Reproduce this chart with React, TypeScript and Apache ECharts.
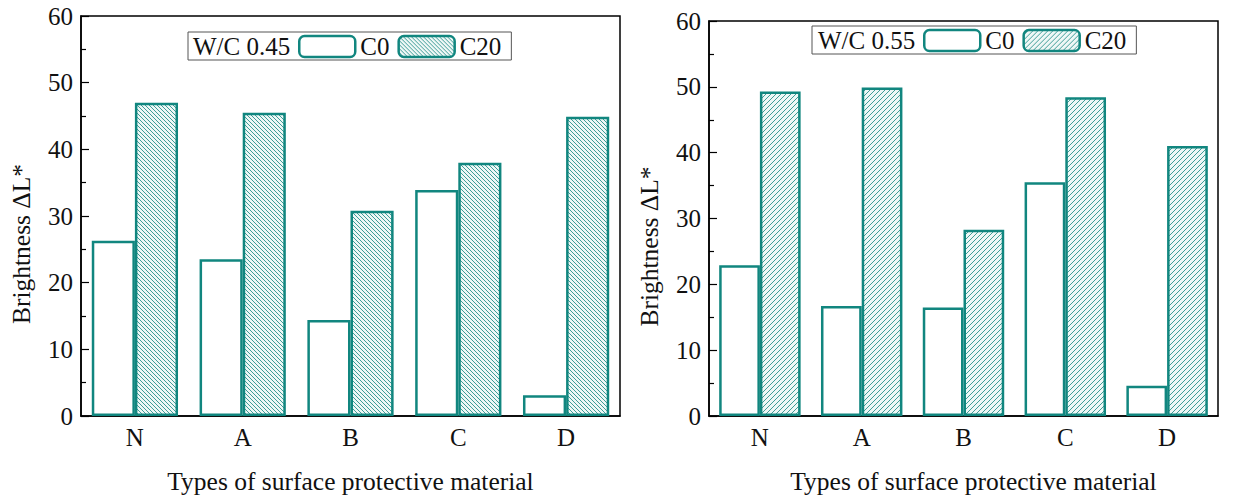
import React, { useEffect, useRef } from "react";
import * as echarts from "echarts";

// Surface protective material types
const categories = ["N", "A", "B", "C", "D"];

// Brightness change ΔL*, W/C 0.45
const c0Left = [26.3, 23.5, 14.4, 33.9, 3.1];
const c20Left = [47.0, 45.5, 30.8, 38.0, 44.9];

// Brightness change ΔL*, W/C 0.55
const c0Right = [22.9, 16.7, 16.5, 35.5, 4.6];
const c20Right = [49.3, 49.9, 28.3, 48.4, 41.0];

const yMin = 0;
const yMax = 60;
const yInterval = 10;

const TEAL = "#11867f";
const FONT = "Liberation Serif, Times New Roman, serif";

// Diagonal hatch tile: dir 1 = "\" lines, dir -1 = "/" lines
function hatch(size: number, dir: number) {
  const c = document.createElement("canvas");
  c.width = size;
  c.height = size;
  const ctx = c.getContext("2d")!;
  ctx.fillStyle = "#eef7f6";
  ctx.fillRect(0, 0, size, size);
  ctx.strokeStyle = "rgba(17,134,128,0.8)";
  ctx.lineWidth = 1;
  for (let k = -1; k <= 1; k++) {
    ctx.beginPath();
    if (dir > 0) {
      ctx.moveTo(k * size, 0);
      ctx.lineTo(k * size + size, size);
    } else {
      ctx.moveTo(k * size, size);
      ctx.lineTo(k * size + size, 0);
    }
    ctx.stroke();
  }
  return {
    image: c.toDataURL(),
    repeat: "repeat",
    imageWidth: size,
    imageHeight: size,
  } as any;
}

export default function App() {
  const ref = useRef<HTMLDivElement>(null);

  useEffect(() => {
    if (!ref.current) return;
    const chart = echarts.init(ref.current, null, { renderer: "svg" });
    const patL = hatch(4, 1);
    const patR = hatch(5, -1);

    const grids = [
      { left: 81, top: 16, width: 539, height: 402 },
      { left: 709, top: 21, width: 509, height: 395 },
    ];

    const txt = { color: "#111", fontFamily: FONT, fontSize: 25 };
    const nameTxt = { color: "#111", fontFamily: FONT, fontSize: 25.5 };

    const xAxis = grids.map((_, i) => ({
      type: "category",
      gridIndex: i,
      data: categories,
      axisLine: { lineStyle: { color: "#000", width: 1.5 } },
      axisTick: { inside: true, length: 4, lineStyle: { color: "#000", width: 1.2 } },
      axisLabel: { ...txt, margin: 9 },
      name: "Types of surface protective material",
      nameLocation: "middle",
      nameGap: 52,
      nameTextStyle: { ...nameTxt, padding: i === 1 ? [0, 0, 0, 20] : 0 },
    }));

    const yAxis = grids.map((_, i) => ({
      type: "value",
      gridIndex: i,
      min: yMin,
      max: yMax,
      interval: yInterval,
      axisLine: { show: true, lineStyle: { color: "#000", width: 1.5 } },
      axisTick: { show: true, inside: true, length: 8, lineStyle: { color: "#000", width: 1.2 } },
      minorTick: { show: true, splitNumber: 2, length: 5, lineStyle: { color: "#000", width: 1.2 } },
      splitLine: { show: false },
      axisLabel: { ...txt, margin: 8 },
      name: "Brightness \u0394L*",
      nameLocation: "middle",
      nameGap: 47,
      nameRotate: 90,
      nameTextStyle: { ...nameTxt, padding: [0, 56, 0, 0] },
    }));

    const barBase = {
      type: "bar",
      barCategoryGap: "20%",
      barGap: "0%",
    };
    const c0Style = { color: "#fff", borderColor: TEAL, borderWidth: 2.5 };

    const series = [
      { ...barBase, name: "C0", xAxisIndex: 0, yAxisIndex: 0, data: c0Left, itemStyle: c0Style },
      { ...barBase, name: "C20", xAxisIndex: 0, yAxisIndex: 0, data: c20Left, itemStyle: { color: patL, borderColor: TEAL, borderWidth: 2.5 } },
      { ...barBase, name: "C0", xAxisIndex: 1, yAxisIndex: 1, data: c0Right, itemStyle: c0Style },
      { ...barBase, name: "C20", xAxisIndex: 1, yAxisIndex: 1, data: c20Right, itemStyle: { color: patR, borderColor: TEAL, borderWidth: 2.5 } },
    ];

    const legendBase = {
      orient: "horizontal",
      itemWidth: 56,
      itemHeight: 21,
      itemGap: 8,
      borderColor: "#555",
      borderWidth: 1,
      selectedMode: false,
      textStyle: { ...txt },
      itemStyle: { borderWidth: 2.5, borderColor: TEAL },
    };

    const legend = [
      {
        ...legendBase,
        left: 188,
        top: 32,
        padding: [2, 10, 1, 110],
        data: [
          { name: "C0", itemStyle: { color: "#fff" } },
          { name: "C20", itemStyle: { color: patL } },
        ],
      },
      {
        ...legendBase,
        left: 812,
        top: 26,
        padding: [2, 10, 1, 111],
        data: [
          { name: "C0", itemStyle: { color: "#fff" } },
          { name: "C20", itemStyle: { color: patR } },
        ],
      },
    ];

    chart.setOption({
      animation: false,
      backgroundColor: "#fff",
      grid: grids.map((g) => ({ ...g, show: true, borderColor: "#000", borderWidth: 1.5, backgroundColor: "transparent" })),
      xAxis,
      yAxis,
      legend,
      series,
      graphic: [
        {
          type: "text",
          x: 193,
          y: 46,
          style: { text: "W/C 0.45", font: `25px ${FONT}`, fill: "#111", verticalAlign: "middle" },
        },
        {
          type: "text",
          x: 818,
          y: 40,
          style: { text: "W/C 0.55", font: `25px ${FONT}`, fill: "#111", verticalAlign: "middle" },
        },
      ],
    });

    return () => chart.dispose();
  }, []);

  return (
    <div
      ref={ref}
      style={{ position: "fixed", left: 0, top: 0, width: 1242, height: 499, background: "#fff" }}
    />
  );
}
